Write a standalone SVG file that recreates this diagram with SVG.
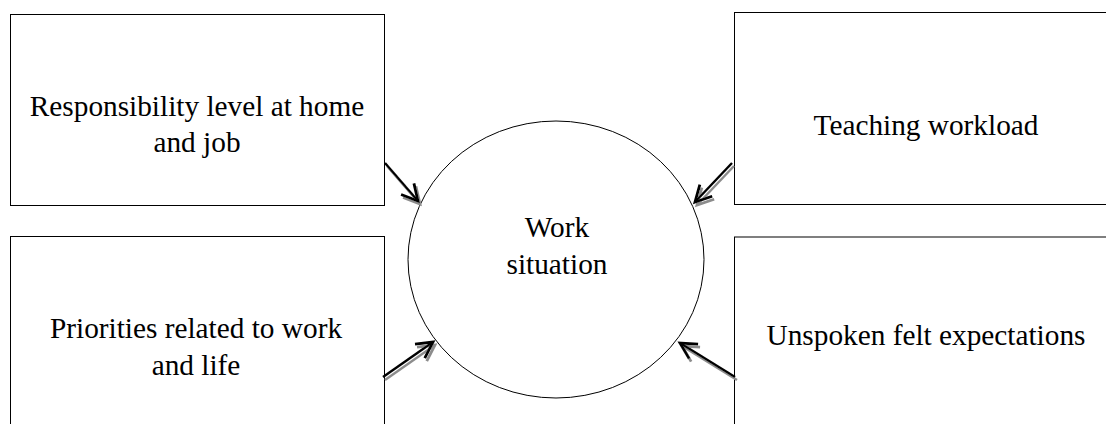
<svg xmlns="http://www.w3.org/2000/svg" width="1106" height="424" viewBox="0 0 1106 424">
  <style>
    .box { fill: #fff; stroke: #000; stroke-width: 1; }
    .hub { fill: #fff; stroke: #000; stroke-width: 1; }
    .label { font-size: 29.3px; fill: #000; text-anchor: middle; }
    .arrow { fill: none; stroke: #000; stroke-width: 2.4; marker-end: url(#head); filter: url(#shade); }
  </style>
  <defs>
    <!-- open V arrowhead -->
    <marker id="head" markerUnits="userSpaceOnUse" markerWidth="30" markerHeight="30" refX="0" refY="0" viewBox="-20 -15 30 30" orient="auto" overflow="visible">
      <path d="M -16 -8.5 L 0 0 L -16 8.5" fill="none" stroke="#000" stroke-width="2.8" stroke-linejoin="miter"/>
    </marker>
    <!-- soft grey drop shadow under the connectors -->
    <filter id="shade" x="-30%" y="-30%" width="160%" height="160%">
      <feOffset in="SourceAlpha" dx="2" dy="2.5" result="off"/>
      <feGaussianBlur in="off" stdDeviation="0.6" result="blur"/>
      <feFlood flood-color="#8c8c8c"/>
      <feComposite in2="blur" operator="in" result="shadow"/>
      <feMerge>
        <feMergeNode in="shadow"/>
        <feMergeNode in="SourceGraphic"/>
      </feMerge>
    </filter>
  </defs>

  <rect width="1106" height="424" fill="#fff"/>

  <g font-family="'Liberation Serif', 'Times New Roman', Times, serif">
    <g id="node-responsibility">
      <rect class="box" x="10.5" y="14.5" width="374" height="191"/>
      <text class="label" x="197" y="116">Responsibility level at home</text>
      <text class="label" x="197" y="152">and job</text>
    </g>

    <g id="node-teaching">
      <rect class="box" x="734.5" y="12.5" width="380" height="192"/>
      <text class="label" x="926" y="135">Teaching workload</text>
    </g>

    <g id="node-priorities">
      <rect class="box" x="10.5" y="236.5" width="374" height="200"/>
      <text class="label" x="196" y="338">Priorities related to work</text>
      <text class="label" x="196" y="375">and life</text>
    </g>

    <g id="node-expectations">
      <rect class="box" x="734.5" y="237" width="380" height="200"/>
      <text class="label" x="926" y="345">Unspoken felt expectations</text>
    </g>

    <g id="node-work">
      <ellipse class="hub" cx="556" cy="259.5" rx="148" ry="138.5"/>
      <text class="label" x="557" y="237">Work</text>
      <text class="label" x="557" y="274">situation</text>
    </g>
  </g>

  <g id="connectors">
    <path class="arrow" d="M 385 163 L 418 201"/>
    <path class="arrow" d="M 732 163 L 695 202"/>
    <path class="arrow" d="M 383 377 L 433 342"/>
    <path class="arrow" d="M 735 377 L 680 343"/>
  </g>
</svg>
